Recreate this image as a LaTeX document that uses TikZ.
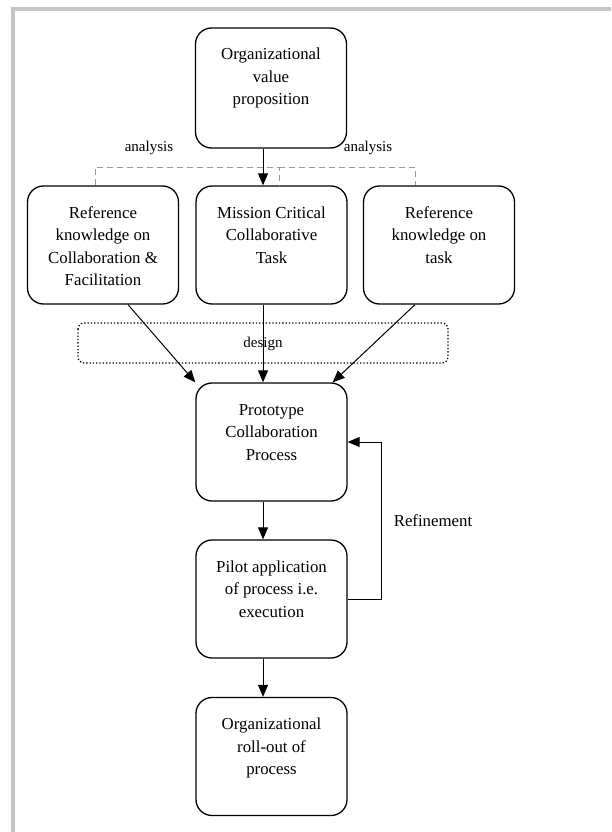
\documentclass[tikz,border=0pt]{standalone}
\usepackage{fontspec}
\setmainfont{Liberation Serif}
\usetikzlibrary{arrows.meta}

\definecolor{framegray}{HTML}{C4C4C4}
\definecolor{dashgray}{HTML}{9A9A9A}

% stage text: top-aligned lines inside a box of fixed size
\newcommand{\stagetext}[2][118pt]{%
  \begin{minipage}[c][#1][t]{151pt}\centering
  \rule{0pt}{32pt}#2\end{minipage}}

\tikzset{
  stage/.style={draw, line width=1.3pt, rounded corners=16pt, inner sep=0pt,
                font=\fontsize{16.8}{22.5}\selectfont},
  flow/.style={line width=1pt, -{Triangle[length=12pt,width=10pt]}},
  analysisline/.style={draw=dashgray, line width=1pt, dash pattern=on 6pt off 4pt},
  designbox/.style={draw, line width=1.3pt, dotted, rounded corners=6pt},
  smalllabel/.style={font=\fontsize{15}{18}\selectfont, inner sep=0pt},
  biglabel/.style={font=\fontsize{16.8}{20}\selectfont, inner sep=0pt},
}

\begin{document}
\begin{tikzpicture}[x=1pt, y=-1pt]
\useasboundingbox (0,0) rectangle (611,832);

% page frame
\draw[framegray, line width=4pt, line join=miter] (12.5,832) -- (12.5,9.5) -- (611,9.5);

% stages
\node[stage] (value) at (271,88)
  {\stagetext[120pt]{Organizational\\value\\proposition}};
\node[stage] (refcollab) at (103,245)
  {\stagetext{Reference\\knowledge on\\Collaboration \&\\Facilitation}};
\node[stage] (mission) at (271.5,245)
  {\stagetext{Mission Critical\\Collaborative\\Task}};
\node[stage] (reftask) at (439,245)
  {\stagetext{Reference\\knowledge on\\task}};
\node[stage] (proto) at (271.5,442)
  {\stagetext{Prototype\\Collaboration\\Process}};
\node[stage] (pilot) at (271.5,599)
  {\stagetext{Pilot application\\of process i.e.\\execution}};
\node[stage] (rollout) at (271.5,756.5)
  {\stagetext{Organizational\\roll-out of\\process}};

% design region
\draw[designbox] (78,323) rectangle (448,363);
\node[smalllabel] (designlabel) at (263,344) {design};

% analysis links
\coordinate (aleft)  at (95,167);
\coordinate (amid)   at (279,167);
\coordinate (aright) at (415,167);
\draw[analysisline] ([xshift=-8pt]refcollab.north) -- (aleft) -- (amid)
  -- ([xshift=7.5pt]mission.north);
\draw[analysisline] (amid) -- (aright) -- ([xshift=-24pt]reftask.north);
\node[smalllabel] (analysisL) at (149,148) {analysis};
\node[smalllabel] (analysisR) at (368,148) {analysis};

% main flow
\draw[flow] ([xshift=-8pt]value.south) -- ([xshift=-8.5pt]mission.north);
\draw[flow] ([xshift=25pt]refcollab.south) -- (proto.north west);
\draw[flow] ([xshift=-8.5pt]mission.south) -- ([xshift=-8.5pt]proto.north);
\draw[flow] ([xshift=-24pt]reftask.south) -- ([xshift=-15pt]proto.north east);
\draw[flow] ([xshift=-8.5pt]proto.south) -- ([xshift=-8.5pt]pilot.north);
\draw[flow] ([xshift=-8.5pt]pilot.south) -- ([xshift=-8.5pt]rollout.north);

% refinement loop
\coordinate (loopbot) at (381,599);
\coordinate (looptop) at (381,442);
\draw[flow] (pilot.east) -- (loopbot) -- (looptop) -- (proto.east);
\node[biglabel] (refinement) at (433,521) {Refinement};
\end{tikzpicture}
\end{document}
